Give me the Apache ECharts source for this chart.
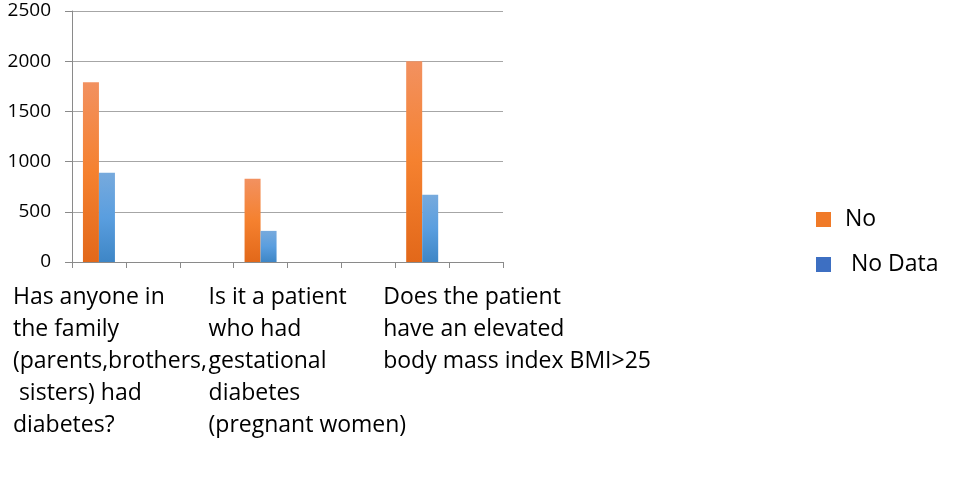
<!DOCTYPE html>
<html>
<head>
<meta charset="utf-8">
<script src="https://cdn.jsdelivr.net/npm/echarts@6/dist/echarts.min.js"></script>
<style>html,body{margin:0;padding:0;background:#fff;}#c{width:979px;height:479px;}</style>
</head>
<body>
<div id="c"></div>
<script>
const categories = [
  'Has anyone in\nthe family\n(parents,brothers,\n sisters) had\ndiabetes?', '', '',
  'Is it a patient\nwho had\ngestational\ndiabetes\n(pregnant women)', '', '',
  'Does the patient\nhave an elevated\nbody mass index BMI>25', ''
];
const seriesNames = ['No', ' No Data'];
const noValues = [1790, null, null, 830, null, null, 2000, null];
const noDataValues = [890, null, null, 310, null, null, 670, null];
const yTicks = [0, 500, 1000, 1500, 2000, 2500];

const labelShift = [-86, 0, 0, -52, 0, 0, -39, 0];
const FONT = '"Open Sans", sans-serif';

function grad(top, mid, bot) {
  return new echarts.graphic.LinearGradient(0, 0, 0, 1, [
    {offset: 0, color: top}, {offset: 0.5, color: mid}, {offset: 1, color: bot}
  ]);
}

const labelStyle = {align: 'left', verticalAlign: 'top', fontFamily: FONT, fontSize: 23, color: '#000', lineHeight: 32};

const chart = echarts.init(document.getElementById('c'), null, {renderer: 'canvas'});
chart.setOption({
  animation: false,
  backgroundColor: '#fff',
  grid: {left: 72, right: 476, top: 11, bottom: 217, containLabel: false, outerBoundsMode: 'none'},
  legend: {
    orient: 'vertical', left: 811, top: 203, padding: 5,
    itemWidth: 15, itemHeight: 15, itemGap: 22,
    textStyle: {fontFamily: FONT, fontSize: 23, color: '#000', padding: [0, 0, 0, 9]},
    data: [
      {name: seriesNames[0], icon: 'rect', itemStyle: {color: '#f07a28'}},
      {name: seriesNames[1], icon: 'rect', itemStyle: {color: '#3d6fc2'}}
    ]
  },
  xAxis: {
    type: 'category',
    data: categories.map((c, i) => ({value: c, textStyle: Object.assign({}, labelStyle, {padding: [0, 0, 0, labelShift[i]]})})),
    axisLine: {show: true, lineStyle: {color: '#8a8a8a', width: 1}},
    axisTick: {show: true, interval: 0, length: 6, lineStyle: {color: '#8a8a8a'}},
    axisLabel: Object.assign({interval: 0, margin: 19}, labelStyle),
    splitLine: {show: false}
  },
  yAxis: {
    type: 'value', min: yTicks[0], max: yTicks[yTicks.length - 1], interval: 500,
    axisLine: {show: true, lineStyle: {color: '#8a8a8a', width: 1}},
    axisTick: {show: true, length: 7, lineStyle: {color: '#8a8a8a'}},
    axisLabel: {margin: 21, fontFamily: FONT, fontSize: 19, color: '#000', formatter: v => String(v)},
    splitLine: {show: true, lineStyle: {color: '#a6a6a6', width: 1}}
  },
  series: [
    {
      name: seriesNames[0], type: 'bar', data: noValues, barWidth: 16, barGap: '0%',
      itemStyle: {color: grad('#f29160', '#f5812f', '#e2681a')}
    },
    {
      name: seriesNames[1], type: 'bar', data: noDataValues, barWidth: 16, barGap: '0%',
      itemStyle: {color: grad('#77aadd', '#5a9edf', '#3e86c6')}
    }
  ]
});
</script>
</body>
</html>
